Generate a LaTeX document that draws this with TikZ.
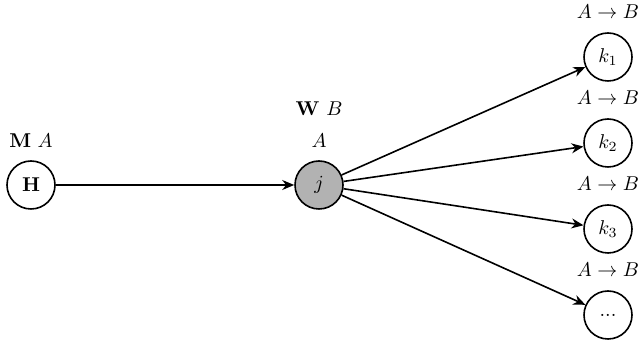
\documentclass[tikz,border=0pt]{standalone}
\usetikzlibrary{arrows.meta}
\tikzset{
  vtx/.style={circle, draw, thick, minimum size=24pt, inner sep=0pt},
  hid/.style={vtx, fill=black!30},
  conn/.style={-{Stealth[length=6pt,width=5pt]}, thick},
  lbl/.style={inner sep=0pt}
}
\begin{document}
\begin{tikzpicture}[x=0.5pt, y=-0.5pt]
\useasboundingbox (0,0) rectangle (642,346);
\node[vtx] (H) at (31,185) {$\mathbf{H}$};
\node[hid] (j) at (319,185) {$j$};
\node[vtx] (k1) at (608,57) {$k_1$};
\node[vtx] (k2) at (608,143) {$k_2$};
\node[vtx] (k3) at (608,229) {$k_3$};
\node[vtx] (k4) at (608,315) {...};
\node[lbl] (lH) at (31,141) {$\mathbf{M}$ $A$};
\node[lbl] (lj1) at (319,109) {$\mathbf{W}$ $B$};
\node[lbl] (lj2) at (319,141) {$A$};
\node[lbl] (l1) at (608,12) {$A \to B$};
\node[lbl] (l2) at (608,98) {$A \to B$};
\node[lbl] (l3) at (608,184) {$A \to B$};
\node[lbl] (l4) at (608,270) {$A \to B$};
\draw[conn] (H) -- (j);
\draw[conn] (j) -- (k1);
\draw[conn] (j) -- (k2);
\draw[conn] (j) -- (k3);
\draw[conn] (j) -- (k4);
\end{tikzpicture}
\end{document}
